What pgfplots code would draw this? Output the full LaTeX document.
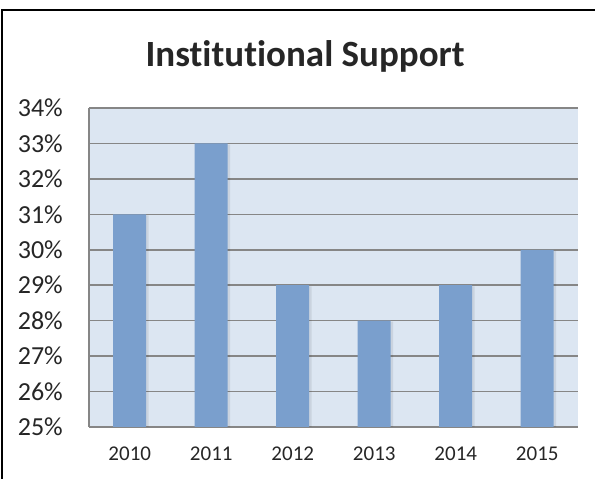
\documentclass[border=0pt]{standalone}
\usepackage{fontspec}
\setmainfont{Carlito}[Ligatures={NoCommon}]
\usepackage{pgfplots}
\pgfplotsset{compat=1.18}

\definecolor{plotbg}{RGB}{220,230,242}
\definecolor{gridgray}{RGB}{134,134,134}
\definecolor{barblue}{RGB}{122,159,205}

\begin{document}
\begin{tikzpicture}[x=1pt,y=1pt]
  \useasboundingbox (0,0) rectangle (595,479);
  % outer chart frame (cropped on the right and bottom)
  \draw[black, line width=1.6pt] (2,0) -- (2,469) -- (595,469);
  \node[font=\fontsize{37}{37}\selectfont\bfseries, text=black!85] at (305,423) {Institutional Support};

  \begin{axis}[
    at={(89pt,52pt)}, anchor=south west,
    scale only axis,
    width=489pt, height=319pt,
    xmin=-0.5, xmax=5.5,
    ymin=25, ymax=34,
    ytick={25,...,34},
    xtick={0,...,5},
    xticklabels={2010,2011,2012,2013,2014,2015},
    yticklabel={\pgfmathprintnumber{\tick}\%},
    /pgf/number format/assume math mode=true,
    major tick length=0pt,
    tick style={draw=none},
    yticklabel style={font=\fontsize{26}{26}\selectfont, text=black!85, inner sep=0pt, xshift=-26pt},
    xticklabel style={font=\fontsize{21}{21}\selectfont, text=black!85, inner sep=0pt, yshift=-20pt},
    axis background/.style={fill=plotbg},
    axis x line*=bottom, axis y line*=left,
    axis line style={gridgray, line width=1.6pt},
    ymajorgrids,
    grid style={gridgray, line width=1.6pt},
    ybar, bar width=33pt,
    clip=false,
  ]
    % soft shadow behind bars
    \addplot[fill=black, fill opacity=0.08, draw=none, bar shift=1.5pt, bar width=35pt] coordinates {
      (0,30.97) (1,32.97) (2,28.97) (3,27.97) (4,28.97) (5,29.97)
    };
    \addplot[fill=barblue, draw=none, bar shift=0pt] coordinates {
      (0,31) (1,33) (2,29) (3,28) (4,29) (5,30)
    };
  \end{axis}
\end{tikzpicture}
\end{document}
